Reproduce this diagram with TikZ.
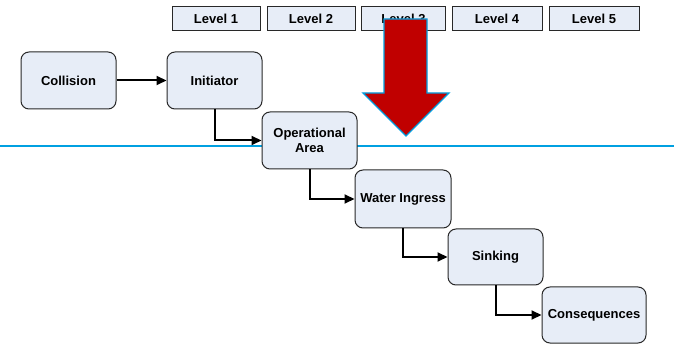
\documentclass[tikz,border=0pt]{standalone}
\usepackage{fontspec}
\setmainfont{Liberation Sans}
\usetikzlibrary{arrows.meta}
\definecolor{boxfill}{RGB}{231,237,247}
\definecolor{boxline}{RGB}{40,40,40}
\definecolor{seablue}{RGB}{0,160,225}
\definecolor{arrowred}{RGB}{192,0,0}
\begin{document}
\begin{tikzpicture}[x=1pt,y=-1pt,
  stage/.style={draw=boxline,line width=1pt,fill=boxfill,rounded corners=8pt,
    minimum width=95pt,minimum height=57pt,inner sep=2pt,align=center,
    font=\fontsize{13}{15.5}\selectfont\bfseries},
  levelbox/.style={draw=boxline,line width=1pt,fill=boxfill,
    minimum height=24pt,inner sep=0pt,font=\fontsize{13}{15}\selectfont\bfseries},
  link/.style={line width=2pt,-{Triangle[length=10pt,width=9pt]}}]
\useasboundingbox (0,0) rectangle (674,344);
% sea level line
\coordinate (seaL) at (0,146);
\coordinate (seaR) at (674,146);
\draw[seablue,line width=1.8pt] (seaL) -- (seaR);
% level boxes
\node[levelbox,minimum width=88pt] (l1) at (216,19) {Level 1};
\node[levelbox,minimum width=88pt] (l2) at (311,19) {Level 2};
\node[levelbox,minimum width=84pt] (l3) at (403.5,19) {Level 3};
\node[levelbox,minimum width=90pt] (l4) at (497,19) {Level 4};
\node[levelbox,minimum width=90pt] (l5) at (594,19) {Level 5};
% red arrow
\draw[seablue,line width=1.3pt,fill=arrowred,line join=miter]
  (384,19) -- (427,19) -- (427,93) -- (449,93) -- (406,136) -- (363,93) -- (384,93) -- cycle;
% stages
\node[stage] (col) at (68.5,80.5) {Collision};
\node[stage] (ini) at (214.5,80.5) {Initiator};
\node[stage] (oa) at (309.5,140.5) {Operational\\Area};
\node[stage,minimum width=96pt,minimum height=58pt] (wi) at (403,199) {Water Ingress};
\node[stage,minimum height=56pt] (sin) at (495.5,257) {Sinking};
\node[stage,minimum width=104pt,minimum height=56pt] (con) at (594,315) {Consequences};
% connectors
\draw[link] (col) -- (ini);
\draw[link] (ini.south) |- (oa.west);
\draw[link] (oa.south) |- (wi.west);
\draw[link] (wi.south) |- (sin.west);
\draw[link] (sin.south) |- (con.west);
\end{tikzpicture}
\end{document}
